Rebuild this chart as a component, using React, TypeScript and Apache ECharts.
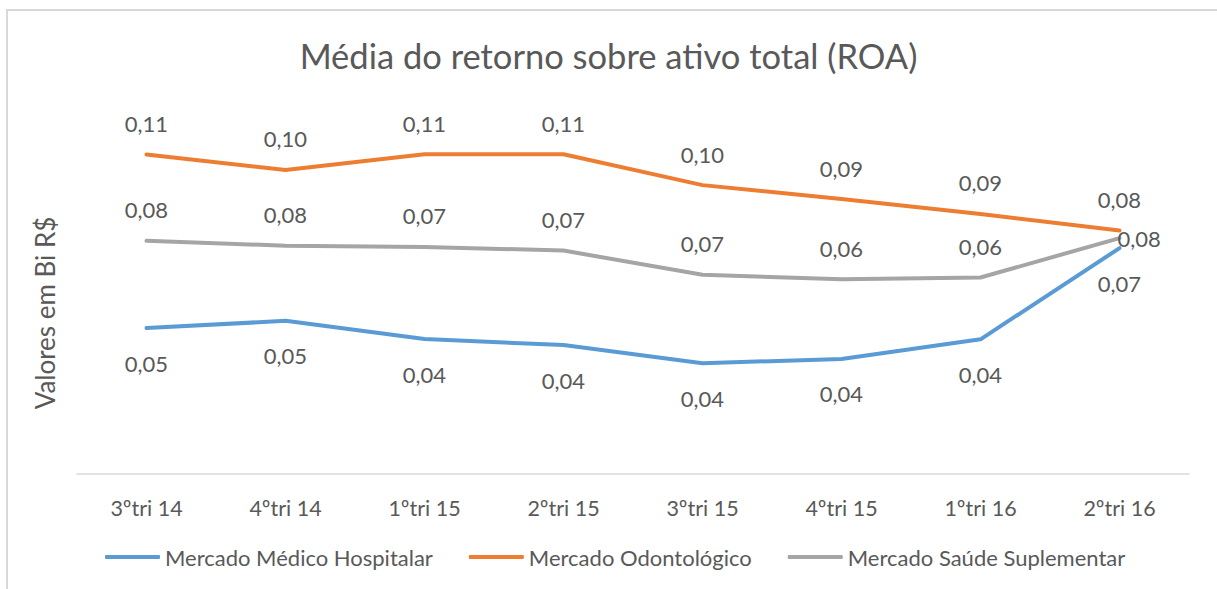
import React, { useEffect, useRef } from "react";
import * as echarts from "echarts";

const categories = ["3ºtri 14", "4ºtri 14", "1ºtri 15", "2ºtri 15", "3ºtri 15", "4ºtri 15", "1ºtri 16", "2ºtri 16"];
const medicoHospitalar = [0.048, 0.0504, 0.0444, 0.0424, 0.0364, 0.0378, 0.0443, 0.0744];
const odontologico = [0.1053, 0.1002, 0.1054, 0.1054, 0.0952, 0.0906, 0.0857, 0.0802];
const saudeSuplementar = [0.0768, 0.0752, 0.0748, 0.0736, 0.0656, 0.0641, 0.0647, 0.0777];
const seriesNames = ["Mercado Médico Hospitalar", "Mercado Odontológico", "Mercado Saúde Suplementar"];
const titleText = "Média do retorno sobre ativo total (ROA)";
const yAxisTitle = "Valores em Bi R$";

const FONT = "Lato, 'Noto Sans', sans-serif";
const TEXT = "#595959";

const fmt = (p: any) => Number(p.value).toFixed(2).replace(".", ",");

export default function App() {
  const ref = useRef<HTMLDivElement>(null);
  useEffect(() => {
    if (!ref.current) return;
    const chart = echarts.init(ref.current, undefined, { renderer: "svg" });
    const labelBase = { show: true, formatter: fmt, color: TEXT, fontSize: 22, fontFamily: FONT };
    const mk = (name: string, data: number[], color: string, label: any, lastLabel?: any) => ({
      name,
      type: "line",
      data: data.map((v, i) =>
        i === data.length - 1 && lastLabel ? { value: v, label: lastLabel } : { value: v }
      ),
      symbol: "circle",
      symbolSize: 2,
      itemStyle: { color },
      lineStyle: { color, width: 4, cap: "round", join: "round" },
      label: { ...labelBase, ...label },
      emphasis: { disabled: true },
    });
    chart.setOption({
      animation: false,
      textStyle: { fontFamily: FONT },
      title: {
        text: titleText,
        left: "center",
        top: 38,
        padding: 0,
        textStyle: { color: TEXT, fontSize: 34.5, fontWeight: "normal", fontFamily: FONT },
      },
      legend: {
        left: 100,
        top: 541,
        icon: "roundRect",
        itemWidth: 55,
        itemHeight: 4,
        itemGap: 36,
        textStyle: { color: TEXT, fontSize: 22, fontFamily: FONT, padding: [0, 0, 0, 0] },
        data: seriesNames,
      },
      grid: { left: 77, right: 28, top: 110, bottom: 115.5 },
      xAxis: {
        type: "category",
        data: categories,
        axisTick: { show: false },
        axisLine: { lineStyle: { color: "#D9D9D9", width: 1.5 } },
        axisLabel: { color: TEXT, fontSize: 21.5, fontFamily: FONT, margin: 23 },
      },
      yAxis: { type: "value", min: 0, max: 0.12, show: false, splitLine: { show: false } },
      graphic: [
        {
          type: "rect",
          shape: { x: 7, y: 10, width: 1400, height: 800 },
          style: { fill: "none", stroke: "#D9D9D9", lineWidth: 2 },
          silent: true,
        },
        {
          type: "text",
          x: 45,
          y: 313,
          rotation: Math.PI / 2,
          style: {
            text: yAxisTitle,
            fill: TEXT,
            fontSize: 26,
            fontFamily: FONT,
            align: "center",
            verticalAlign: "middle",
          },
        },
      ],
      series: [
        mk(seriesNames[0], medicoHospitalar, "#5B9BD5", { position: "bottom", distance: 23 }),
        mk(seriesNames[1], odontologico, "#ED7D31", { position: "top", distance: 19 }),
        mk(seriesNames[2], saudeSuplementar, "#A5A5A5", { position: "top", distance: 19 }, { position: "right", distance: -3 }),
      ],
    });
    return () => chart.dispose();
  }, []);
  return <div ref={ref} style={{ position: "fixed", left: 0, top: 0, width: 1217, height: 589, background: "#fff" }} />;
}
